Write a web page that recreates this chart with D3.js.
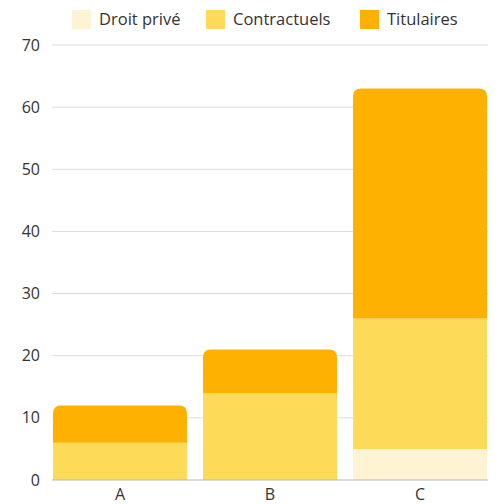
<!DOCTYPE html>
<html><head><meta charset="utf-8">
<script src="https://cdn.jsdelivr.net/npm/d3@7"></script>
<style>body{margin:0;background:#fff;}svg{display:block;font-family:"Open Sans",sans-serif;}</style>
</head><body>
<svg id="c" width="497" height="504"></svg>
<script>
const categories = ["A", "B", "C"];
const seriesNames = ["Droit privé", "Contractuels", "Titulaires"];
const droitPrive = [0, 0, 5];
const contractuels = [6, 14, 21];
const titulaires = [6, 7, 37];
const yTicks = [0, 10, 20, 30, 40, 50, 60, 70];
const colors = ["#FEF3D3", "#FDDA57", "#FEB100"];

const svg = d3.select("#c");
const m = {l: 53, r: 487, t: 45, b: 480};
const x = d3.scaleBand().domain(categories).range([m.l, m.r]).paddingInner(0.107).paddingOuter(0);
const y = d3.scaleLinear().domain([0, 70]).range([m.b, m.t]);

const rows = categories.map((c, i) => ({cat: c, "Droit privé": droitPrive[i], "Contractuels": contractuels[i], "Titulaires": titulaires[i]}));
const stacked = d3.stack().keys(seriesNames)(rows);

// grid
svg.append("g").selectAll("line").data(yTicks.slice(1)).join("line")
  .attr("x1", 52).attr("x2", 488).attr("y1", d => y(d)).attr("y2", d => y(d))
  .attr("stroke", "#dcdcdc").attr("stroke-width", 1);

svg.append("g").selectAll("text").data(yTicks).join("text")
  .attr("x", 40).attr("y", d => y(d)).attr("dy", "0.35em").attr("text-anchor", "end")
  .attr("font-size", 16).attr("fill", "#333").text(d => d);

// bars
const r = 8;
stacked.forEach((s, si) => {
  svg.append("g").selectAll("path").data(s).join("path")
    .attr("fill", colors[si])
    .attr("d", (d, i) => {
      const x0 = x(d.data.cat), w = x.bandwidth();
      const yTop = y(d[1]), yBot = y(d[0]);
      if (d[1] - d[0] <= 0) return "";
      const isTop = si === stacked.length - 1 || stacked.slice(si + 1).every(t => t[i][1] - t[i][0] === 0);
      if (isTop) {
        return `M${x0},${yBot}V${yTop + r}Q${x0},${yTop} ${x0 + r},${yTop}H${x0 + w - r}Q${x0 + w},${yTop} ${x0 + w},${yTop + r}V${yBot}Z`;
      }
      return `M${x0},${yBot}V${yTop}H${x0 + w}V${yBot}Z`;
    });
});

// baseline
svg.append("line").attr("x1", 52).attr("x2", 488).attr("y1", y(0)).attr("y2", y(0))
  .attr("stroke", "#b8b8b8").attr("stroke-width", 1.2);

// x labels
svg.append("g").selectAll("text").data(categories).join("text")
  .attr("x", d => x(d) + x.bandwidth() / 2).attr("y", 500).attr("text-anchor", "middle")
  .attr("font-size", 16).attr("fill", "#333").text(d => d);

// legend
const legX = [72, 206, 360];
const lg = svg.append("g").selectAll("g").data(seriesNames).join("g");
lg.append("rect").attr("x", (d, i) => legX[i]).attr("y", 10).attr("width", 19).attr("height", 19).attr("fill", (d, i) => colors[i]);
lg.append("text").attr("x", (d, i) => legX[i] + 27).attr("y", 19).attr("dy", "0.35em")
  .attr("font-size", 16.5).attr("fill", "#333").text(d => d);
</script>
</body></html>
